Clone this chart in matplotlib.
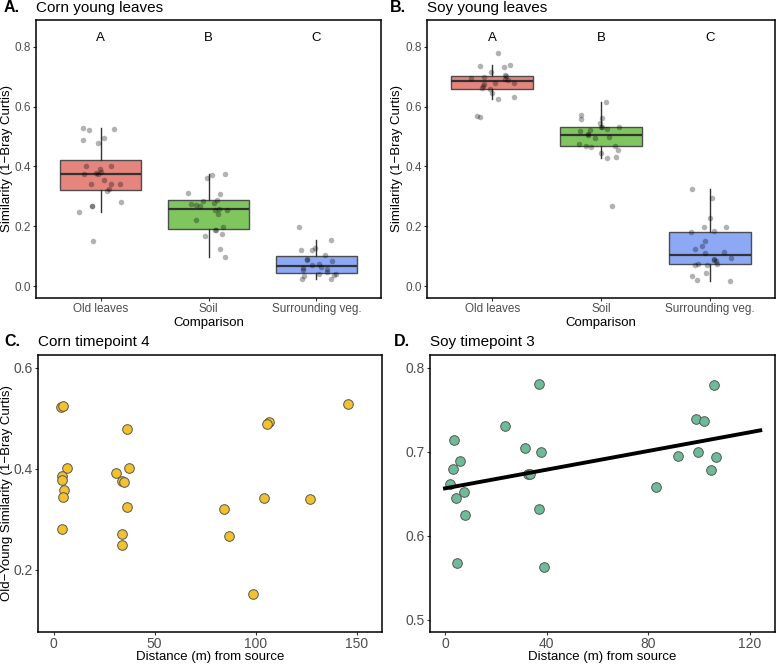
import matplotlib
matplotlib.use('Agg')

import numpy as np
import matplotlib.pyplot as plt

plt.rcParams['font.family'] = ['Liberation Sans', 'DejaVu Sans']

# ---- data ----
categories = ['Old leaves', 'Soil', 'Surrounding veg.']
letters = ['A', 'B', 'C']

corn_old = [0.530, 0.522, 0.525, 0.494, 0.488, 0.479, 0.390, 0.402, 0.402, 0.374,
            0.379, 0.383, 0.375, 0.356, 0.341, 0.340, 0.343, 0.318, 0.324, 0.269,
            0.248, 0.280, 0.267, 0.151]
corn_soil = [0.374, 0.373, 0.360, 0.309, 0.312, 0.287, 0.286, 0.274, 0.256, 0.256,
             0.270, 0.279, 0.267, 0.257, 0.242, 0.220, 0.198, 0.187, 0.187, 0.173,
             0.166, 0.125, 0.096]
corn_veg = [0.196, 0.153, 0.120, 0.128, 0.120, 0.103, 0.092, 0.084, 0.088, 0.075,
            0.072, 0.064, 0.060, 0.055, 0.058, 0.047, 0.039, 0.036, 0.032, 0.025,
            0.022, 0.041]

soy_old = [0.781, 0.740, 0.732, 0.736, 0.698, 0.689, 0.695, 0.701, 0.705, 0.715,
           0.675, 0.669, 0.661, 0.658, 0.647, 0.680, 0.678, 0.692, 0.625, 0.631,
           0.564, 0.568]
soy_soil = [0.615, 0.572, 0.560, 0.563, 0.544, 0.531, 0.527, 0.533, 0.533, 0.522,
            0.520, 0.507, 0.499, 0.505, 0.496, 0.474, 0.469, 0.469, 0.464, 0.455,
            0.446, 0.432, 0.427, 0.267]
soy_veg = [0.326, 0.295, 0.226, 0.198, 0.198, 0.184, 0.181, 0.151, 0.134, 0.125,
           0.114, 0.111, 0.094, 0.092, 0.086, 0.084, 0.075, 0.069, 0.072, 0.075,
           0.044, 0.032, 0.017, 0.019]

corn_dist = [3.8, 4.9, 6.6, 4.1, 4.4, 5.3, 4.6, 4.0, 36.6, 37.4, 30.8, 34.1, 34.9,
             36.6, 33.8, 33.9, 84.5, 87.0, 98.8, 104.3, 106.8, 105.8, 126.9, 145.8]
corn_sim = [0.522, 0.524, 0.402, 0.386, 0.378, 0.357, 0.344, 0.281, 0.479, 0.402,
            0.391, 0.375, 0.373, 0.325, 0.270, 0.249, 0.321, 0.267, 0.153, 0.343,
            0.493, 0.489, 0.340, 0.529]

soy_dist = [2.0, 3.4, 3.3, 6.0, 4.2, 7.6, 7.7, 4.6, 23.6, 31.5, 32.5, 33.3, 37.0,
            37.8, 36.9, 39.0, 83.0, 91.7, 98.8, 101.8, 99.4, 104.5, 106.6, 105.7]
soy_sim = [0.661, 0.714, 0.679, 0.689, 0.645, 0.652, 0.624, 0.567, 0.731, 0.704,
           0.673, 0.673, 0.780, 0.700, 0.632, 0.563, 0.658, 0.695, 0.739, 0.736,
           0.699, 0.678, 0.693, 0.779]

box_colors = ['#E5857E', '#7FC65E', '#8DA8F5']

W, H = 776, 664
fig = plt.figure(figsize=(W / 100, H / 100), dpi=100)


def px_axes(left, top, right, bottom):
    return fig.add_axes([left / W, 1 - bottom / H, (right - left) / W, (bottom - top) / H])


def style(ax, size):
    for s in ax.spines.values():
        s.set_color('black')
        s.set_linewidth(1.1)
    ax.tick_params(length=2.5, width=0.8, color='#333333', labelcolor='#4D4D4D',
                   labelsize=size, pad=1)


def place_labels(ax, xlab_y, ylab_x):
    if ax.get_xlabel():
        ax.xaxis.label.set_verticalalignment('center')
        ax.xaxis.set_label_coords(0.5, xlab_y)
    if ax.get_ylabel():
        ax.yaxis.label.set_verticalalignment('center')
        ax.yaxis.set_label_coords(ylab_x, 0.5)


def box_panel(ax, groups, seed):
    rng = np.random.default_rng(seed)
    ax.boxplot(groups, positions=[1, 2, 3], widths=0.75, patch_artist=True,
               showfliers=False, showcaps=False, whis=1.5,
               boxprops=dict(edgecolor='#4D4D4D', linewidth=1),
               whiskerprops=dict(color='#333333', linewidth=1),
               medianprops=dict(color='#333333', linewidth=1.6))
    for patch, c in zip(ax.patches, box_colors):
        patch.set_facecolor(c)
    for i, g in enumerate(groups):
        xs = i + 1 + rng.uniform(-0.2, 0.2, len(g))
        ax.scatter(xs, g, s=16, color='black', alpha=0.3, linewidths=0, zorder=3)
    for i, l in enumerate(letters):
        ax.text(i + 1, 0.83, l, ha='center', va='center', fontsize=9.5)
    ax.set_xlim(0.4, 3.6)
    ax.set_ylim(-0.04, 0.89)
    ax.set_yticks([0.0, 0.2, 0.4, 0.6, 0.8])
    ax.set_xticks([1, 2, 3])
    ax.set_xticklabels(categories)
    ax.set_xlabel('Comparison', fontsize=9.5)
    ax.set_ylabel('Similarity (1\u2212Bray Curtis)', fontsize=9.5)
    style(ax, 8.5)
    place_labels(ax, -0.09, -0.085)


axA = px_axes(36, 20, 381, 298)
box_panel(axA, [corn_old, corn_soil, corn_veg], 3)
axB = px_axes(427, 20, 775, 298)
box_panel(axB, [soy_old, soy_soil, soy_veg], 7)

# ---- panel C ----
axC = px_axes(38, 355, 382, 632)
axC.scatter(corn_dist, corn_sim, s=48, color='#F2C12E', edgecolors='#555555',
            linewidths=0.7, zorder=3)
axC.set_xlim(-7.7, 162.6)
axC.set_ylim(0.077, 0.625)
axC.set_xticks([0, 50, 100, 150])
axC.set_yticks([0.2, 0.4, 0.6])
axC.set_xlabel('Distance (m) from source', fontsize=9.5)
axC.set_ylabel('Old\u2212Young Similarity (1\u2212Bray Curtis)', fontsize=9.5)
style(axC, 10)
place_labels(axC, -0.091, -0.09)

# ---- panel D ----
axD = px_axes(430, 355, 775, 632)
axD.scatter(soy_dist, soy_sim, s=48, color='#6DBB9A', edgecolors='#555555',
            linewidths=0.7, zorder=3)
slope, intercept = np.polyfit(soy_dist, soy_sim, 1)
xl = np.array([0, 124])
axD.plot(xl, intercept + slope * xl, color='black', linewidth=2.8, zorder=4)
axD.set_xlim(-5.9, 129.8)
axD.set_ylim(0.4853, 0.815)
axD.set_xticks([0, 40, 80, 120])
axD.set_yticks([0.5, 0.6, 0.7, 0.8])
axD.set_xlabel('Distance (m) from source', fontsize=9.5)
style(axD, 10)
place_labels(axD, -0.091, None)

# ---- panel titles ----
titles = [(4, 36, 8, 'A.', 'Corn young leaves'),
          (390, 427, 8, 'B.', 'Soy young leaves'),
          (4, 38, 342, 'C.', 'Corn timepoint 4'),
          (394, 430, 342, 'D.', 'Soy timepoint 3')]
for lx, tx, ty, lab, t in titles:
    fig.text(lx / W, 1 - ty / H, lab, fontsize=11.5, fontweight='bold', va='center')
    fig.text(tx / W, 1 - ty / H, t, fontsize=11, va='center')

fig.savefig('out.png', dpi=100)
